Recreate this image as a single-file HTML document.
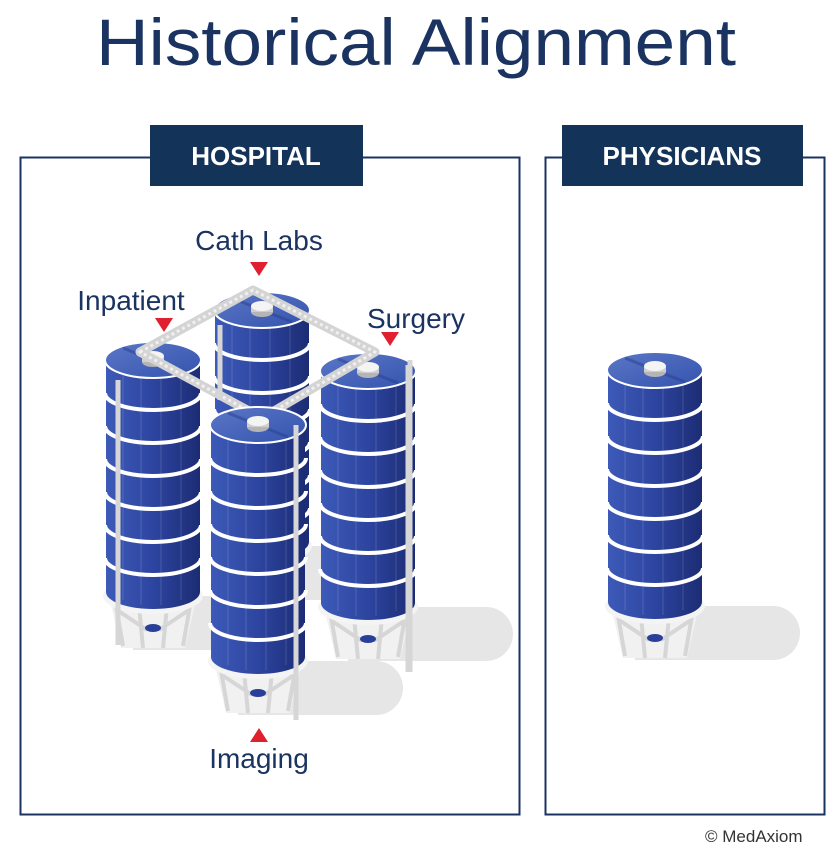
<!DOCTYPE html>
<html><head><meta charset="utf-8"><style>
html,body{margin:0;padding:0;background:#fff;}
svg{display:block;}
text{font-family:"Liberation Sans",sans-serif;}
</style></head><body>
<svg width="830" height="856" viewBox="0 0 830 856" xmlns="http://www.w3.org/2000/svg">
<defs>
<linearGradient id="body" x1="0" x2="1" y1="0" y2="0">
<stop offset="0" stop-color="#3d5ab8"/><stop offset="0.5" stop-color="#2d45a0"/><stop offset="1" stop-color="#1c2c74"/>
</linearGradient>
<linearGradient id="top" x1="0" x2="1" y1="0" y2="1">
<stop offset="0" stop-color="#5b77c7"/><stop offset="1" stop-color="#3453ad"/>
</linearGradient>
<g id="shadow">
<path d="M-20 236 H118 A27 27 0 0 1 118 290 H-20 Z" fill="#e6e6e6"/>
</g>
<g id="silo">
<path d="M-44 236 L-32 288 L32 288 L44 236 Z" fill="#f1f1f1"/>
<path d="M-38 240 L-30 286 M-14 246 L-10 288 M14 246 L10 288 M38 240 L30 286 M-36 250 L-6 270 M36 250 L6 270" stroke="#d6d6d6" stroke-width="4" fill="none"/>
<ellipse cx="0" cy="268" rx="8" ry="4" fill="#2a3f98"/>
<ellipse cx="0" cy="236" rx="50" ry="18" fill="#f4f4f4"/>
<path d="M-47 0 V232 A47 17 0 0 0 47 232 V0 Z" fill="url(#body)"/>
<g stroke="#ffffff" stroke-opacity="0.15" stroke-width="1" fill="none">
<path d="M-30 0 V240 M-12 0 V245 M8 0 V245 M28 0 V240"/>
</g>
<g stroke="#fff" stroke-width="4" fill="none">
<path d="M-48 33 A48 17 0 0 0 48 33"/>
<path d="M-48 66 A48 17 0 0 0 48 66"/>
<path d="M-48 99 A48 17 0 0 0 48 99"/>
<path d="M-48 132 A48 17 0 0 0 48 132"/>
<path d="M-48 165 A48 17 0 0 0 48 165"/>
<path d="M-48 198 A48 17 0 0 0 48 198"/>
</g>
<ellipse cx="0" cy="0" rx="48" ry="18" fill="url(#top)" stroke="#fff" stroke-width="2"/>
<path d="M-30 -12 L30 12" stroke="#2a3f90" stroke-width="3" opacity="0.5"/>
<ellipse cx="0" cy="2" rx="11" ry="5" fill="#b5b5b5"/>
<rect x="-11" y="-4" width="22" height="6" fill="#cfcfcf"/>
<ellipse cx="0" cy="-4" rx="11" ry="5" fill="#f4f4f4"/>
</g>
</defs>

<text x="416" y="65" text-anchor="middle" font-size="66" fill="#1b3360" textLength="640" lengthAdjust="spacingAndGlyphs">Historical Alignment</text>

<rect x="20.5" y="157.5" width="499" height="657" fill="none" stroke="#1b3360" stroke-width="2"/>
<rect x="545.5" y="157.5" width="279" height="657" fill="none" stroke="#1b3360" stroke-width="2"/>
<rect x="150" y="125" width="213" height="61" fill="#143359"/>
<text x="256" y="165" text-anchor="middle" font-size="26" font-weight="bold" fill="#fff">HOSPITAL</text>
<rect x="562" y="125" width="241" height="61" fill="#143359"/>
<text x="682" y="165" text-anchor="middle" font-size="26" font-weight="bold" fill="#fff">PHYSICIANS</text>

<use href="#shadow" transform="translate(262,310)"/>
<use href="#shadow" transform="translate(153,360)"/>
<use href="#shadow" transform="translate(368,371)"/>
<use href="#shadow" transform="translate(258,425)"/>
<use href="#shadow" transform="translate(655,370)"/>

<use href="#silo" transform="translate(262,310)"/>
<use href="#silo" transform="translate(153,360)"/>
<use href="#silo" transform="translate(368,371)"/>
<g fill="none" stroke-linejoin="round">
<path d="M140 352 L253 290 L375 352 L262 418 Z" stroke="#d4d4d4" stroke-width="9"/>
<path d="M140 352 L253 290 L375 352 L262 418 Z" stroke="#f0f0f0" stroke-width="3" stroke-dasharray="3 3"/>
</g>
<g stroke="#d6d6d6" stroke-width="5" fill="none">
<path d="M118 380 V645 M220 325 V400 M408 365 V672"/>
</g>
<use href="#silo" transform="translate(258,425)"/>
<g stroke="#d6d6d6" stroke-width="5" fill="none"><path d="M296 425 V720 M410 360 V672"/></g>

<use href="#silo" transform="translate(655,370)"/>

<text x="259" y="250" text-anchor="middle" font-size="28" fill="#1b3360">Cath Labs</text>
<path d="M250 262 H268 L259 276 Z" fill="#e0202e"/>
<text x="131" y="310" text-anchor="middle" font-size="28" fill="#1b3360">Inpatient</text>
<path d="M155 318 H173 L164 332 Z" fill="#e0202e"/>
<text x="416" y="328" text-anchor="middle" font-size="28" fill="#1b3360">Surgery</text>
<path d="M381 332 H399 L390 346 Z" fill="#e0202e"/>
<path d="M250 742 H268 L259 728 Z" fill="#e0202e"/>
<text x="259" y="768" text-anchor="middle" font-size="28" fill="#1b3360">Imaging</text>

<text x="705" y="842" font-size="17" fill="#333">© MedAxiom</text>
</svg>
</body></html>
